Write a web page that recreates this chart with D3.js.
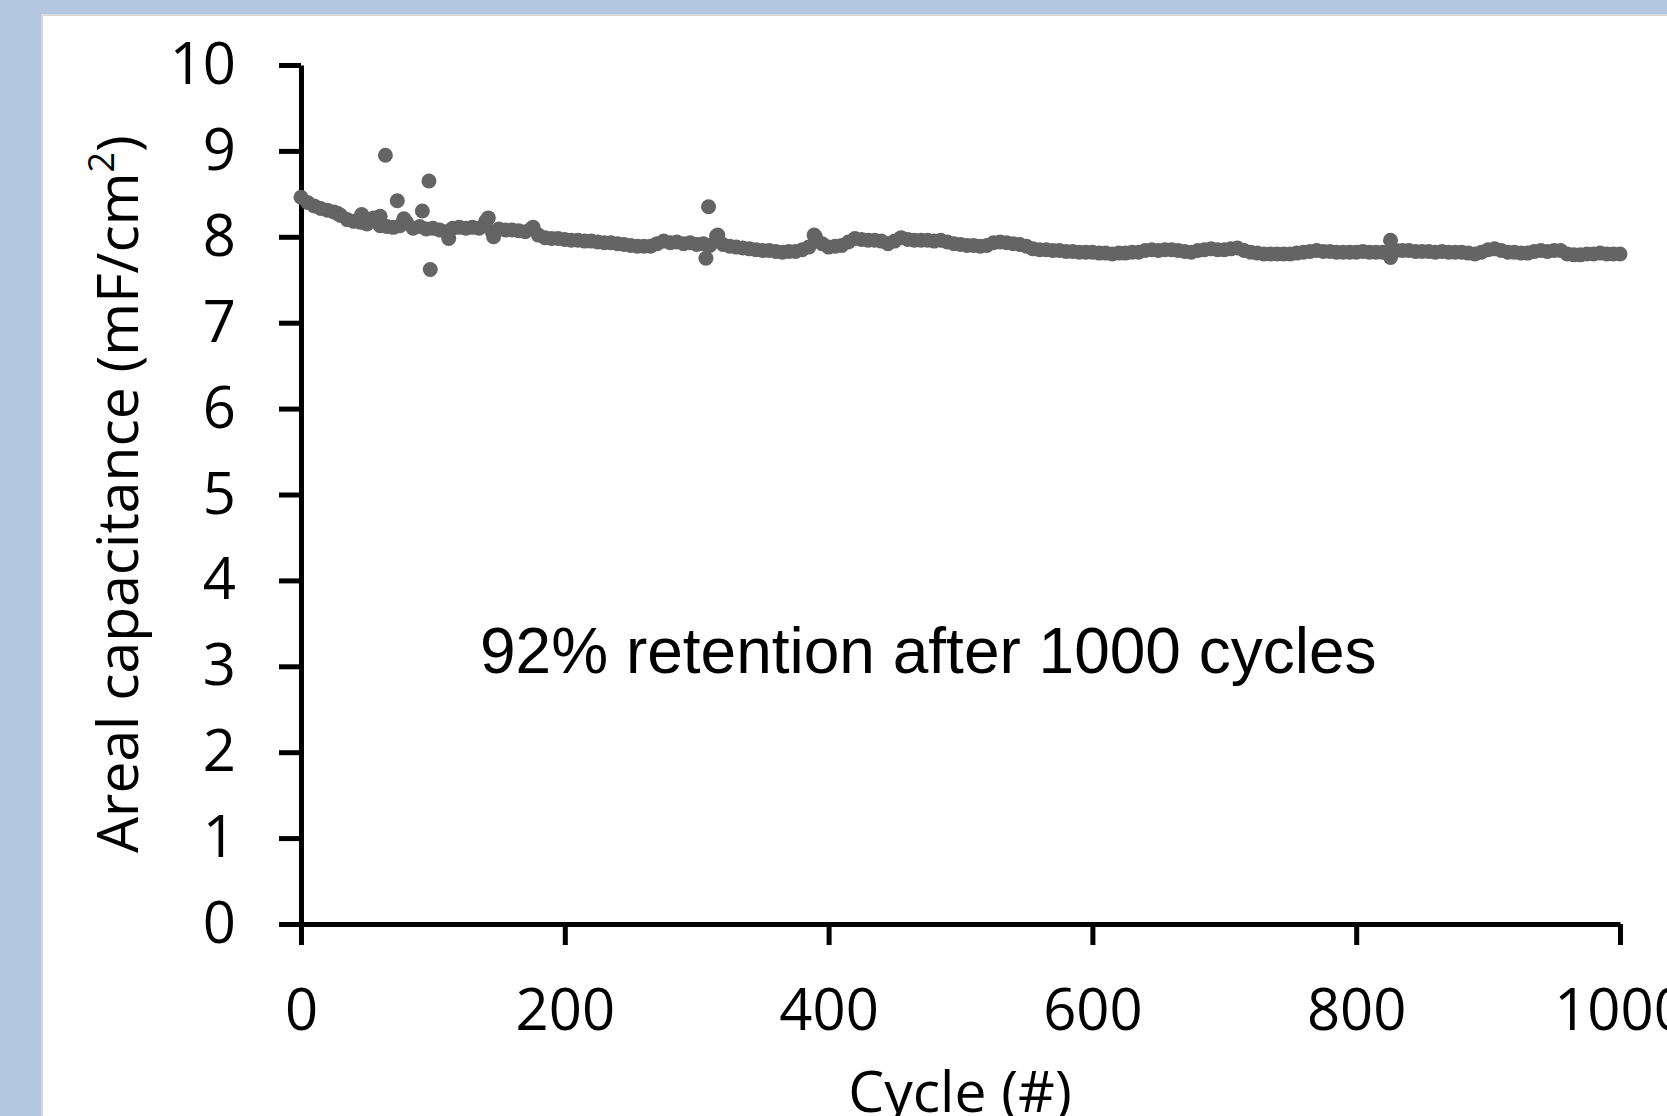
<!DOCTYPE html>
<html>
<head>
<meta charset="utf-8">
<script src="https://cdn.jsdelivr.net/npm/d3@7"></script>
<style>
  html, body { margin: 0; padding: 0; background: #b3c8e0; overflow: hidden; }
  svg { display: block; }
</style>
</head>
<body>
<script>
var svg_width = 1667;
var svg_height = 1116;

// capacitance read every 5 cycles
var cycles = d3.range(0, 1001, 5);
var capacitance = [
  8.46, 8.40, 8.36, 8.33, 8.31, 8.29, 8.25, 8.20, 8.18, 8.17,
  8.15, 8.22, 8.13, 8.12, 8.11, 8.13, 8.17, 8.10, 8.12, 8.09,
  8.10, 8.08, 8.06, 8.10, 8.11, 8.10, 8.11, 8.10, 8.18, 8.06,
  8.09, 8.08, 8.08, 8.07, 8.06, 8.10, 8.02, 7.99, 7.98, 7.98,
  7.97, 7.96, 7.96, 7.95, 7.95, 7.94, 7.93, 7.93, 7.92, 7.91,
  7.90, 7.89, 7.89, 7.89, 7.92, 7.95, 7.93, 7.94, 7.92, 7.93,
  7.91, 7.92, 7.90, 8.01, 7.91, 7.89, 7.88, 7.87, 7.86, 7.85,
  7.84, 7.84, 7.83, 7.82, 7.83, 7.83, 7.85, 7.88, 8.00, 7.92,
  7.88, 7.89, 7.90, 7.94, 7.98, 7.97, 7.96, 7.96, 7.95, 7.92,
  7.95, 7.99, 7.97, 7.96, 7.96, 7.96, 7.95, 7.96, 7.94, 7.92,
  7.91, 7.90, 7.90, 7.89, 7.90, 7.93, 7.94, 7.93, 7.92, 7.91,
  7.89, 7.86, 7.85, 7.85, 7.84, 7.84, 7.83, 7.83, 7.82, 7.82,
  7.82, 7.81, 7.81, 7.80, 7.81, 7.81, 7.82, 7.82, 7.84, 7.85,
  7.84, 7.85, 7.85, 7.84, 7.83, 7.82, 7.84, 7.85, 7.86, 7.85,
  7.85, 7.86, 7.87, 7.84, 7.82, 7.81, 7.80, 7.80, 7.80, 7.80,
  7.80, 7.81, 7.82, 7.83, 7.84, 7.83, 7.83, 7.82, 7.82, 7.82,
  7.82, 7.83, 7.82, 7.82, 7.82, 7.82, 7.84, 7.84, 7.84, 7.83,
  7.83, 7.83, 7.82, 7.83, 7.82, 7.82, 7.82, 7.81, 7.80, 7.82,
  7.85, 7.86, 7.84, 7.82, 7.82, 7.81, 7.81, 7.83, 7.84, 7.83,
  7.84, 7.84, 7.80, 7.79, 7.79, 7.80, 7.80, 7.81, 7.80, 7.80,
  7.80
];

// scattered points off the main band
var extraCycles = [28, 46, 60, 64, 73, 78, 92, 97, 98, 112, 142, 146, 176, 307, 309, 316, 389, 826, 826];
var extraValues = [8.27, 8.26, 8.24, 8.95, 8.42, 8.21, 8.30, 8.65, 7.62, 7.98, 8.22, 8.00, 8.11, 7.75, 8.35, 8.02, 8.02, 7.96, 7.76];

var yTicks = [0, 1, 2, 3, 4, 5, 6, 7, 8, 9, 10];
var xTicks = [0, 200, 400, 600, 800, 1000];
var note = '92% retention after 1000 cycles';

var svg = d3.select('body').append('svg')
            .attr('width', svg_width)
            .attr('height', svg_height);

// white panel
svg.append('rect')
    .attr('x', 42).attr('y', 15)
    .attr('width', svg_width).attr('height', svg_height)
    .attr('fill', '#ffffff')
    .attr('stroke', '#d8d8d8')
    .attr('stroke-width', 2);

var xscale = d3.scaleLinear().domain([0, 1000]).range([301, 1620]);
var yscale = d3.scaleLinear().domain([0, 10]).range([924, 65]);

var font = "'Open Sans', sans-serif";

var xaxis = d3.axisBottom(xscale).tickValues(xTicks).tickFormat(d3.format('d'))
    .tickSize(21).tickSizeOuter(0).tickPadding(44);
var yaxis = d3.axisLeft(yscale).tickValues(yTicks).tickFormat(d3.format('d'))
    .tickSize(22).tickSizeOuter(0).tickPadding(43);

var gx = svg.append('g')
    .attr('transform', 'translate(0,' + yscale(0) + ')')
    .call(xaxis);

var gy = svg.append('g')
    .attr('transform', 'translate(' + xscale(0) + ',0)')
    .call(yaxis);

[gx, gy].forEach(function(g) {
  g.select('.domain').attr('stroke', '#000').attr('stroke-width', 5);
  g.selectAll('.tick line').attr('stroke', '#000').attr('stroke-width', 5);
  g.selectAll('.tick text')
    .attr('fill', '#000')
    .style('font-family', font)
    .style('font-size', '58px');
});

// points
var dotColor = '#646464';
svg.append('g').selectAll('circle.main')
    .data(cycles)
    .enter().append('circle')
    .attr('class', 'main')
    .attr('cx', function(d) { return xscale(d); })
    .attr('cy', function(d, i) { return yscale(capacitance[i]); })
    .attr('r', 7.5)
    .attr('fill', dotColor);

svg.append('g').selectAll('circle.extra')
    .data(extraCycles)
    .enter().append('circle')
    .attr('class', 'extra')
    .attr('cx', function(d) { return xscale(d); })
    .attr('cy', function(d, i) { return yscale(extraValues[i]); })
    .attr('r', 7.5)
    .attr('fill', dotColor);

// axis titles
var ylab = svg.append('text')
    .attr('transform', 'translate(138,494) rotate(-90)')
    .attr('text-anchor', 'middle')
    .style('font-family', font)
    .style('font-size', '57px')
    .attr('fill', '#000');
ylab.append('tspan').text('Areal capacitance (mF/cm');
ylab.append('tspan').attr('baseline-shift', 'super').style('font-size', '36px').text('2');
ylab.append('tspan').text(')');

svg.append('text')
    .attr('x', 960).attr('y', 1112)
    .attr('text-anchor', 'middle')
    .style('font-family', font)
    .style('font-size', '57px')
    .attr('fill', '#000')
    .text('Cycle (#)');

svg.append('text')
    .attr('x', 480).attr('y', 673)
    .style('font-family', "'Liberation Sans', Arial, sans-serif")
    .style('font-size', '64px')
    .attr('fill', '#000')
    .text(note);
</script>
</body>
</html>
